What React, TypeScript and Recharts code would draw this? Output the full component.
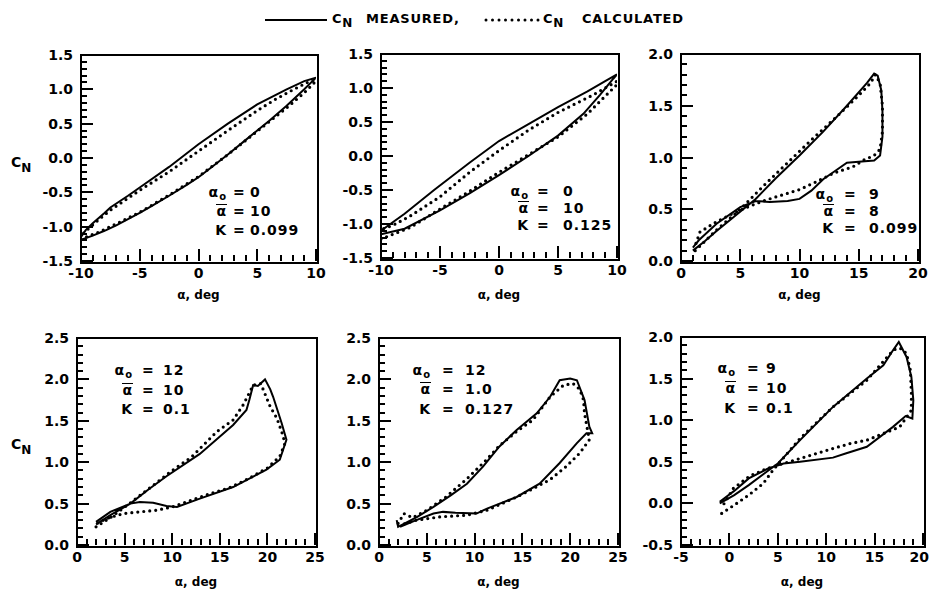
import React from 'react'
import { LineChart, Line, XAxis, YAxis } from 'recharts'

type Pair = [number, number]

// [alpha (deg), C_N] in the order the loop is traced
const measured1: Pair[] = [
  [-10, -1.19], [-9, -1.13], [-8, -1.06], [-7, -0.98], [-6, -0.89], [-5, -0.8], [-4, -0.7], [-2.5, -0.55],
  [-1, -0.39], [0, -0.28], [1, -0.15], [2.5, 0.05], [4, 0.26], [5, 0.4], [6, 0.54], [7.5, 0.76], [9, 1.0],
  [10, 1.17], [9, 1.12], [7.5, 1.0], [5, 0.78], [2.5, 0.5], [0, 0.2], [-2.5, -0.13], [-5, -0.43],
  [-6, -0.55], [-7.5, -0.72], [-8, -0.8], [-9, -0.95], [-9.6, -1.05], [-10, -1.15],
]
const calculated1: Pair[] = [
  [-10, -1.18], [-8.5, -1.08], [-7, -0.96], [-5, -0.79], [-2.5, -0.54], [0, -0.27], [2.5, 0.05],
  [5, 0.39], [7.5, 0.73], [9, 0.95], [10, 1.12], [9.5, 1.12], [8, 0.99], [6.5, 0.85], [5, 0.69],
  [2.5, 0.4], [0, 0.1], [-2.5, -0.2], [-5, -0.47], [-7.5, -0.76], [-8.5, -0.9], [-9.5, -1.05], [-10, -1.13],
]
const measured2: Pair[] = [
  [-10, -1.15], [-8, -1.07], [-5, -0.8], [-2.5, -0.55], [0, -0.28], [2.5, 0.0], [5, 0.3], [7.15, 0.62],
  [8.56, 0.9], [9.7, 1.14], [10, 1.2], [9, 1.1], [7.5, 0.95], [5, 0.72], [2.5, 0.47], [0, 0.22],
  [-2.5, -0.1], [-5.5, -0.5], [-8, -0.85], [-10, -1.1],
]
const calculated2: Pair[] = [
  [-10, -1.22], [-7.5, -1.05], [-5, -0.78], [-2.5, -0.52], [0, -0.24], [2.5, 0.02], [5, 0.28],
  [7.5, 0.62], [9, 0.88], [10, 1.05], [10, 1.1], [8, 0.9], [5, 0.64], [2.5, 0.38], [0, 0.08],
  [-2.5, -0.24], [-5, -0.6], [-7.5, -0.88], [-9, -1.02], [-10, -1.08],
]
const measured3: Pair[] = [
  [1, 0.1], [2, 0.19], [3, 0.29], [4.5, 0.43], [6.3, 0.6], [8, 0.8], [10, 1.02], [12, 1.25], [14, 1.5],
  [15.7, 1.72], [16.3, 1.81], [16.6, 1.79], [16.9, 1.65], [17, 1.45], [17, 1.2], [16.8, 1.02], [16.3, 0.97],
  [15, 0.96], [14, 0.95], [13, 0.87], [12, 0.79], [11, 0.68], [10, 0.6], [9, 0.58], [7.5, 0.57], [6.3, 0.58],
  [5, 0.52], [3, 0.36], [1.5, 0.2], [1, 0.13],
]
const calculated3: Pair[] = [
  [1.2, 0.1], [3, 0.3], [5, 0.5], [7, 0.73], [9, 0.95], [11, 1.17], [13, 1.38], [15, 1.6], [16, 1.72],
  [16.4, 1.8], [16.8, 1.72], [17, 1.5], [17, 1.25], [16.8, 1.08], [16.3, 1.02], [15.5, 0.98], [14.5, 0.91],
  [12.9, 0.85], [11.5, 0.77], [10, 0.69], [8.6, 0.64], [7.2, 0.59], [5.8, 0.53], [4.4, 0.46], [3, 0.38],
  [1.6, 0.28], [1.2, 0.15],
]
const measured4: Pair[] = [
  [2, 0.25], [3.5, 0.36], [5.6, 0.5], [7.5, 0.67], [9.4, 0.83], [12.9, 1.1], [16.4, 1.45], [17.8, 1.63],
  [18.1, 1.75], [18.5, 1.93], [19, 1.92], [19.75, 2.0], [20.3, 1.88], [20.6, 1.79], [21.5, 1.47], [22, 1.27],
  [21.3, 1.03], [19.9, 0.91], [16.4, 0.7], [12.9, 0.56], [10.5, 0.46], [9.4, 0.47], [8, 0.51], [6.6, 0.52],
  [5.6, 0.5], [3.5, 0.4], [2, 0.28],
]
const calculated4: Pair[] = [
  [2, 0.22], [3.5, 0.33], [5.5, 0.5], [8, 0.72], [10, 0.9], [12, 1.06], [14.7, 1.37], [16.4, 1.51],
  [17.5, 1.7], [18.5, 1.93], [19.3, 1.95], [20.3, 1.67], [21, 1.53], [21.5, 1.37], [21.85, 1.23],
  [21.3, 1.07], [20, 0.93], [18, 0.8], [16, 0.69], [14, 0.62], [12, 0.54], [10, 0.46], [8.4, 0.42],
  [6.6, 0.4], [4.9, 0.38], [3.1, 0.32], [2.1, 0.26],
]
const measured5: Pair[] = [
  [1.85, 0.3], [2, 0.22], [4, 0.34], [5.7, 0.46], [7.5, 0.6], [9.2, 0.74], [10.9, 0.95], [12.6, 1.19],
  [14.4, 1.39], [16.5, 1.59], [17.9, 1.79], [18.9, 1.99], [20, 2.01], [20.7, 1.99], [21.5, 1.75], [22, 1.43],
  [22.3, 1.35], [21.7, 1.35], [20.7, 1.23], [18.9, 0.99], [16.8, 0.74], [14.4, 0.58], [11.3, 0.44],
  [10.2, 0.38], [8, 0.39], [6.7, 0.4], [5.7, 0.38], [3.9, 0.3], [2.2, 0.22],
]
const calculated5: Pair[] = [
  [2, 0.26], [2.6, 0.38], [3.5, 0.33], [5, 0.42], [7, 0.58], [9.2, 0.8], [11.25, 1.03], [12.6, 1.2],
  [14.5, 1.38], [16.1, 1.51], [17.9, 1.79], [19.3, 1.93], [20.3, 1.95], [21, 1.88], [21.4, 1.75],
  [21.5, 1.59], [22, 1.27], [21, 1.11], [19.6, 0.95], [17.9, 0.79], [16.1, 0.68], [14.4, 0.58],
  [11.3, 0.42], [9.2, 0.36], [6.4, 0.34], [3.9, 0.3], [2.2, 0.24],
]
const measured6: Pair[] = [
  [-1, 0.0], [0.5, 0.1], [2, 0.22], [3.5, 0.35], [5, 0.48], [7.3, 0.76], [10.7, 1.16], [14.2, 1.5],
  [15.9, 1.66], [16.9, 1.84], [17.5, 1.94], [18.3, 1.76], [18.8, 1.52], [19, 1.24], [18.9, 1.02],
  [18.2, 1.05], [16.9, 0.92], [14.2, 0.68], [12, 0.6], [10.7, 0.55], [7.3, 0.5], [5.6, 0.48], [4, 0.42],
  [2, 0.3], [0.5, 0.15], [-1, 0.02],
]
const calculated6: Pair[] = [
  [-0.8, -0.12], [0.5, -0.02], [2, 0.1], [3.5, 0.24], [4.5, 0.4], [7.3, 0.78], [10.7, 1.16], [14.2, 1.48],
  [16.6, 1.8], [17.2, 1.86], [17.8, 1.86], [18.3, 1.8], [18.7, 1.6], [18.8, 1.32], [18.8, 1.12],
  [17.6, 0.92], [15.9, 0.84], [14.2, 0.76], [12.5, 0.72], [10.7, 0.66], [9, 0.6], [7.3, 0.54], [5.6, 0.48],
  [3.9, 0.42], [2.1, 0.33], [0.4, 0.18], [-0.8, -0.05],
]

// labelled ticks
const xTicksA = [-10, -5, 0, 5, 10]
const xTicksB = [0, 5, 10, 15, 20]
const xTicksC = [0, 5, 10, 15, 20, 25]
const xTicksD = [-5, 0, 5, 10, 15, 20]
const yTicksA = [-1.5, -1.0, -0.5, 0.0, 0.5, 1.0, 1.5]
const yTicksB = [0.0, 0.5, 1.0, 1.5, 2.0]
const yTicksC = [0.0, 0.5, 1.0, 1.5, 2.0, 2.5]
const yTicksD = [-0.5, 0.0, 0.5, 1.0, 1.5, 2.0]

// run parameters: alpha_0, alpha-bar, K
const alpha0 = ['0', '0', '9', '12', '12', '9']
const alphaBar = ['10', '10', '8', '10', '1.0', '10']
const kValues = ['0.099', '0.125', '0.099', '0.1', '0.127', '0.1']

const FONT = '"DejaVu Sans", Verdana, sans-serif'
const tickFont: React.CSSProperties = { fontFamily: FONT, fontSize: 14, fontWeight: 700, fill: '#000' }

const MAJOR_LEN = 12
const MINOR_LEN = 6

const withMinor = (major: number[], step: number) => {
  const lo = major[0]
  const hi = major[major.length - 1]
  const n = Math.round((hi - lo) / step)
  return Array.from({ length: n + 1 }, (_, i) => Math.round((lo + i * step) * 1000) / 1000)
}
const isMajor = (v: number, major: number[]) => major.some((m) => Math.abs(m - v) < 1e-6)
const toPts = (p: Pair[]) => p.map(([a, cn]) => ({ a, cn }))

const makeXTick = (major: number[], endAnchorLast: boolean) => (props: any) => {
  const { x, y, payload } = props
  const v = payload.value as number
  const last = Math.abs(v - major[major.length - 1]) < 1e-6
  const anchor = endAnchorLast && last ? 'end' : 'middle'
  return (
    <text x={anchor === 'end' ? Number(x) + 6 : x} y={Number(y) + 17} textAnchor={anchor} style={tickFont}>
      {v}
    </text>
  )
}

const makeYTick = () => (props: any) => {
  const { x, y, payload } = props
  const v = payload.value as number
  return (
    <text x={Number(x) - 8} y={Number(y) + 5} textAnchor="end" style={tickFont}>
      {v.toFixed(1)}
    </text>
  )
}

interface PanelProps {
  measured: Pair[]
  calculated: Pair[]
  xMajor: number[]
  yMajor: number[]
  left: number
  top: number
  w: number
  h: number
  endAnchorLast?: boolean
}

const tickBar: React.CSSProperties = { position: 'absolute', background: '#000', pointerEvents: 'none' }

const Panel = ({ measured, calculated, xMajor, yMajor, left, top, w, h, endAnchorLast = false }: PanelProps) => {
  const xDom: [number, number] = [xMajor[0], xMajor[xMajor.length - 1]]
  const yDom: [number, number] = [yMajor[0], yMajor[yMajor.length - 1]]
  // same linear mapping as the chart's axes, used for the inward tick marks
  const px = (v: number) => left + ((v - xDom[0]) / (xDom[1] - xDom[0])) * w
  const py = (v: number) => top + ((yDom[1] - v) / (yDom[1] - yDom[0])) * h
  return (
    <>
      <div style={{ position: 'absolute', left: left - 60, top: top - 10 }}>
        <LineChart width={w + 80} height={h + 50} margin={{ top: 10, right: 20, bottom: 0, left: 0 }}>
          <XAxis
            type="number"
            dataKey="a"
            domain={xDom}
            allowDataOverflow
            ticks={xMajor}
            interval={0}
            tickSize={0}
            tickMargin={0}
            axisLine={false}
            tickLine={false}
            height={40}
            tick={makeXTick(xMajor, endAnchorLast)}
          />
          <YAxis
            type="number"
            dataKey="cn"
            domain={yDom}
            allowDataOverflow
            ticks={yMajor}
            interval={0}
            tickSize={0}
            tickMargin={0}
            axisLine={false}
            tickLine={false}
            width={60}
            tick={makeYTick()}
          />
          <Line
            data={toPts(measured)}
            dataKey="cn"
            type="linear"
            stroke="#000"
            strokeWidth={2}
            dot={false}
            isAnimationActive={false}
          />
          <Line
            data={toPts(calculated)}
            dataKey="cn"
            type="linear"
            stroke="#000"
            strokeWidth={3.2}
            strokeDasharray="0 6"
            strokeLinecap="round"
            dot={false}
            isAnimationActive={false}
          />
        </LineChart>
      </div>
      {/* inward tick marks */}
      {withMinor(xMajor, 1).map((v) => {
        const len = isMajor(v, xMajor) ? MAJOR_LEN : MINOR_LEN
        return (
          <div
            key={`x${v}`}
            style={{ ...tickBar, left: Math.round(px(v)) - 1, top: top + h - len, width: 2, height: len }}
          />
        )
      })}
      {withMinor(yMajor, 0.1).map((v) => {
        const len = isMajor(v, yMajor) ? MAJOR_LEN : MINOR_LEN
        return (
          <div
            key={`y${v}`}
            style={{ ...tickBar, left, top: Math.round(py(v)) - 1, width: len, height: 2 }}
          />
        )
      })}
      {/* plot frame */}
      <div
        style={{
          position: 'absolute',
          left: left - 1,
          top: top - 1,
          width: w,
          height: h,
          border: '2px solid #000',
          pointerEvents: 'none',
        }}
      />
    </>
  )
}

interface NoteProps {
  idx: number
  left: number
  top: number
  rows: number[]
  labelRight: number
  eq: number
  value: number
}

const textStyle: React.CSSProperties = {
  position: 'absolute',
  fontFamily: FONT,
  fontWeight: 700,
  fontSize: 14,
  letterSpacing: 1,
  lineHeight: '16px',
  height: 16,
  whiteSpace: 'nowrap',
  color: '#000',
}

const Note = ({ idx, left, top, rows, labelRight, eq, value }: NoteProps) => {
  const labels = [
    <span key="a0">
      α<span style={{ fontSize: 10, position: 'relative', top: 3 }}>o</span>
    </span>,
    <span
      key="ab"
      style={{ display: 'inline-block', borderTop: '1.5px solid #000', lineHeight: '11px', paddingTop: 1 }}
    >
      α
    </span>,
    <span key="k">K</span>,
  ]
  const vals = [alpha0[idx], alphaBar[idx], kValues[idx]]
  return (
    <>
      {rows.map((ry, i) => (
        <React.Fragment key={i}>
          <div style={{ ...textStyle, left: left + labelRight - 40, width: 40, textAlign: 'right', top: top + ry - 8 }}>
            {labels[i]}
          </div>
          <div style={{ ...textStyle, left: left + eq - 5, width: 10, textAlign: 'center', top: top + ry - 8 }}>=</div>
          <div style={{ ...textStyle, left: left + value, top: top + ry - 8 }}>{vals[i]}</div>
        </React.Fragment>
      ))}
    </>
  )
}

const axisTitle: React.CSSProperties = {
  position: 'absolute',
  fontFamily: FONT,
  fontWeight: 700,
  fontSize: 12,
  width: 120,
  textAlign: 'center',
  color: '#000',
}

const cnLabel: React.CSSProperties = {
  position: 'absolute',
  fontFamily: FONT,
  fontWeight: 700,
  fontSize: 14,
  color: '#000',
}

const legendText: React.CSSProperties = {
  position: 'absolute',
  top: 11,
  fontFamily: FONT,
  fontWeight: 700,
  fontSize: 13,
  letterSpacing: 0.8,
  whiteSpace: 'nowrap',
  color: '#000',
}

const panels = [
  { measured: measured1, calculated: calculated1, xMajor: xTicksA, yMajor: yTicksA, left: 81, top: 55, w: 235, h: 206 },
  { measured: measured2, calculated: calculated2, xMajor: xTicksA, yMajor: yTicksA, left: 381, top: 54, w: 236, h: 204 },
  { measured: measured3, calculated: calculated3, xMajor: xTicksB, yMajor: yTicksB, left: 681, top: 54, w: 237, h: 207 },
  { measured: measured4, calculated: calculated4, xMajor: xTicksC, yMajor: yTicksC, left: 77, top: 338, w: 238, h: 207 },
  { measured: measured5, calculated: calculated5, xMajor: xTicksC, yMajor: yTicksC, left: 379, top: 338, w: 239, h: 207 },
  { measured: measured6, calculated: calculated6, xMajor: xTicksD, yMajor: yTicksD, left: 681, top: 337, w: 242, h: 208, endAnchorLast: true },
]

const notes = [
  { rows: [137, 156, 175], labelRight: 146, eq: 157, value: 169 },
  { rows: [137, 154, 171], labelRight: 148, eq: 161, value: 182 },
  { rows: [140, 157, 174], labelRight: 153, eq: 168, value: 188 },
  { rows: [32, 52, 71], labelRight: 56, eq: 70, value: 86 },
  { rows: [32, 51, 71], labelRight: 52, eq: 68, value: 86 },
  { rows: [31, 51, 71], labelRight: 55, eq: 71, value: 85 },
]

export default function App() {
  return (
    <div style={{ position: 'absolute', left: 0, top: 0, width: 929, height: 598, background: '#fff', overflow: 'hidden' }}>
      {/* legend */}
      <svg style={{ position: 'absolute', left: 265, top: 16 }} width={64} height={8}>
        <line x1={0} x2={62} y1={4} y2={4} stroke="#000" strokeWidth={2} />
      </svg>
      <div style={{ ...legendText, left: 332 }}>
        C<span style={{ position: 'relative', top: 4, fontSize: 12 }}>N</span>
      </div>
      <div style={{ ...legendText, left: 366 }}>MEASURED,</div>
      <svg style={{ position: 'absolute', left: 483, top: 16 }} width={58} height={8}>
        <line x1={3} x2={56} y1={4} y2={4} stroke="#000" strokeWidth={3} strokeDasharray="0 6.5" strokeLinecap="round" />
      </svg>
      <div style={{ ...legendText, left: 543 }}>
        C<span style={{ position: 'relative', top: 4, fontSize: 12 }}>N</span>
      </div>
      <div style={{ ...legendText, left: 582 }}>CALCULATED</div>

      {panels.map((p, i) => (
        <Panel key={i} {...p} />
      ))}
      {panels.map((p, i) => (
        <Note key={i} idx={i} left={p.left} top={p.top} {...notes[i]} />
      ))}
      {panels.map((p, i) => (
        <div key={i} style={{ ...axisTitle, left: p.left + p.w / 2 - 60, top: i < 3 ? 288 : 575 }}>
          α, deg
        </div>
      ))}

      <div style={{ ...cnLabel, left: 11, top: 154 }}>
        C<span style={{ position: 'relative', top: 5, fontSize: 12 }}>N</span>
      </div>
      <div style={{ ...cnLabel, left: 11, top: 436 }}>
        C<span style={{ position: 'relative', top: 5, fontSize: 12 }}>N</span>
      </div>
    </div>
  )
}
